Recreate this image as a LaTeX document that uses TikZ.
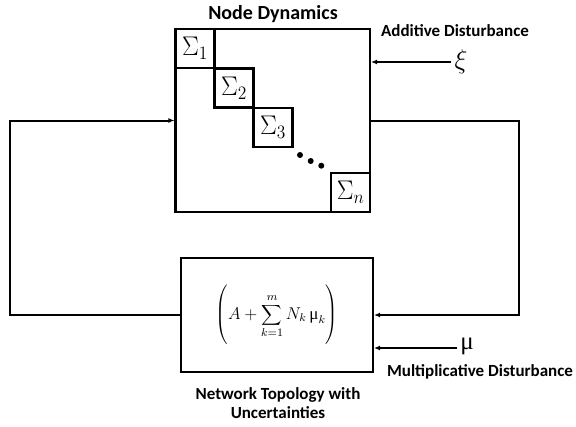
\RequirePackage{fix-cm}
\documentclass[tikz,border=0pt]{standalone}
\usepackage{graphicx}
\usepackage{fontspec}
\setmainfont{Carlito}
\newfontfamily\greekfont{Liberation Serif}
\usetikzlibrary{arrows.meta}
\newcommand{\upmuglyph}{\mbox{\greekfont μ}}
\newcommand{\sysname}[1]{\scalebox{1.25}[1.35]{$\Sigma_{#1}$}}
\begin{document}
\begin{tikzpicture}[x=1pt,y=-1pt,
  box/.style={draw, line width=2.1pt, inner sep=0pt},
  sbox/.style={box, minimum width=39pt, minimum height=39pt, font=\fontsize{20}{24}\selectfont},
  wire/.style={line width=2pt},
  arr/.style={wire, -{Latex[length=6pt,width=5pt]}},
  lbl/.style={font=\fontsize{17}{20}\selectfont\bfseries, inner sep=0pt}]
\useasboundingbox (0,0) rectangle (576,426);

% node dynamics block with its diagonal subsystems
\node[box, minimum width=194.5pt, minimum height=183pt] (nd) at (272.75,120.5) {};
\node[sbox] (s1) at (195,48.5) {\sysname{1}};
\node[sbox] (s2) at (234,88) {\sysname{2}};
\node[sbox] (s3) at (273,127.5) {\sysname{3}};
\node[sbox] (sn) at (350.75,192.5) {\sysname{n}};
\fill (300,155) circle (3pt) (310.7,161) circle (3pt) (321.3,165.7) circle (3pt);
\node[lbl, font=\fontsize{20}{24}\selectfont\bfseries] (ndl) at (273,14) {Node Dynamics};

% network topology block
\node[box, minimum width=192pt, minimum height=114pt, font=\fontsize{12}{14}\selectfont] (nt) at (277,315)
  {\scalebox{1.42}{$\displaystyle\left(\rule[-18pt]{0pt}{24pt}A+\sum_{k=1}^{m} N_k\,\upmuglyph_k\right)$}};
\node[lbl, align=center] (ntl) at (278,403) {Network Topology with\\[-0.5pt]Uncertainties};

% disturbances
\node[inner sep=0pt, font=\fontsize{20}{24}\selectfont] (xi) at (461,62) {\scalebox{1.35}{$\xi$}};
\node[lbl] (adl) at (455,31) {Additive Disturbance};
\node[inner sep=0pt, font=\fontsize{25}{28}\selectfont] (mu) at (467,346) {\upmuglyph};
\node[lbl] (mdl) at (480,372) {Multiplicative Disturbance};

% feedback loop
\coordinate (rc) at (519,120.5);
\coordinate (lc) at (10,315);
\draw[arr] (nd.east) -- (rc) |- (nt.east);
\draw[arr] (nt.west) -- (lc) |- (nd.west);
\draw[arr] (xi.west) ++(-3,0) -- (nd.east |- xi.west);
\draw[arr] (mu.west) ++(-3,2) -- (nt.east |- 0,348);
\end{tikzpicture}
\end{document}
